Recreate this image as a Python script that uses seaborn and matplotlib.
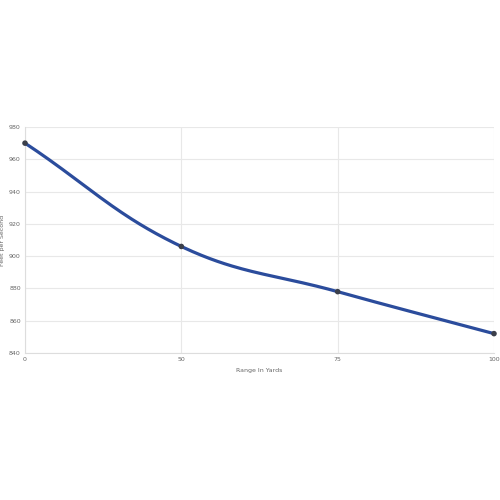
import numpy as np
import seaborn as sns
import matplotlib.pyplot as plt

range_labels = ['0', '50', '75', '100']
velocity = [970, 906, 878, 852]

sns.set_theme(style='whitegrid')
plt.rcParams['font.family'] = ['DejaVu Sans']

fig = plt.figure(figsize=(5, 5), dpi=100)
ax = fig.add_axes([0.05, 0.294, 0.938, 0.452])

ymin, ymax = 840, 980
xpos = np.arange(len(velocity), dtype=float)
yv = np.array(velocity, dtype=float)

# smooth line like a chart.js spline (tension 0.4), computed in pixel space
px_x = 469 / (len(xpos) - 1)
px_y = 226 / (ymax - ymin)
P = np.column_stack([xpos * px_x, yv * px_y])
t = 0.4
cps = []
for i in range(len(P)):
    prev = P[max(i - 1, 0)]
    cur = P[i]
    nxt = P[min(i + 1, len(P) - 1)]
    d01 = np.hypot(*(cur - prev))
    d12 = np.hypot(*(nxt - cur))
    tot = d01 + d12
    s01 = d01 / tot if tot else 0
    s12 = d12 / tot if tot else 0
    cps.append((cur - t * s01 * (nxt - prev), cur + t * s12 * (nxt - prev)))

curve = []
u = np.linspace(0, 1, 60)[:, None]
for i in range(len(P) - 1):
    p0, p3 = P[i], P[i + 1]
    p1, p2 = cps[i][1], cps[i + 1][0]
    seg = (1 - u) ** 3 * p0 + 3 * (1 - u) ** 2 * u * p1 + 3 * (1 - u) * u ** 2 * p2 + u ** 3 * p3
    curve.append(seg)
curve = np.vstack(curve)

ax.plot(curve[:, 0] / px_x, curve[:, 1] / px_y, color='#2b4c9c', lw=2.3, zorder=3,
        solid_capstyle='round')
sns.scatterplot(x=xpos, y=yv, ax=ax, color='#3b3f4a', s=16, edgecolor='none', zorder=4,
                clip_on=False)

ax.set_xlim(0, len(xpos) - 1)
ax.set_ylim(ymin, ymax)
ax.set_xticks(xpos)
ax.set_xticklabels(range_labels)
ax.set_yticks(np.arange(ymin, ymax + 1, 20))
ax.tick_params(axis='both', labelsize=4.5, colors='#666666', length=0, pad=3)
ax.grid(True, color='#e8e8e8', lw=0.8)
for side in ['top', 'right']:
    ax.spines[side].set_visible(False)
for side in ['left', 'bottom']:
    ax.spines[side].set_color('#dddddd')
    ax.spines[side].set_linewidth(0.8)

ax.set_xlabel('Range In Yards', fontsize=4.5, color='#666666', labelpad=4)
ax.set_ylabel('Feet per Second', fontsize=4.5, color='#666666')
ax.yaxis.set_label_coords(-0.042, 0.5)

fig.savefig('out.png', dpi=100)
